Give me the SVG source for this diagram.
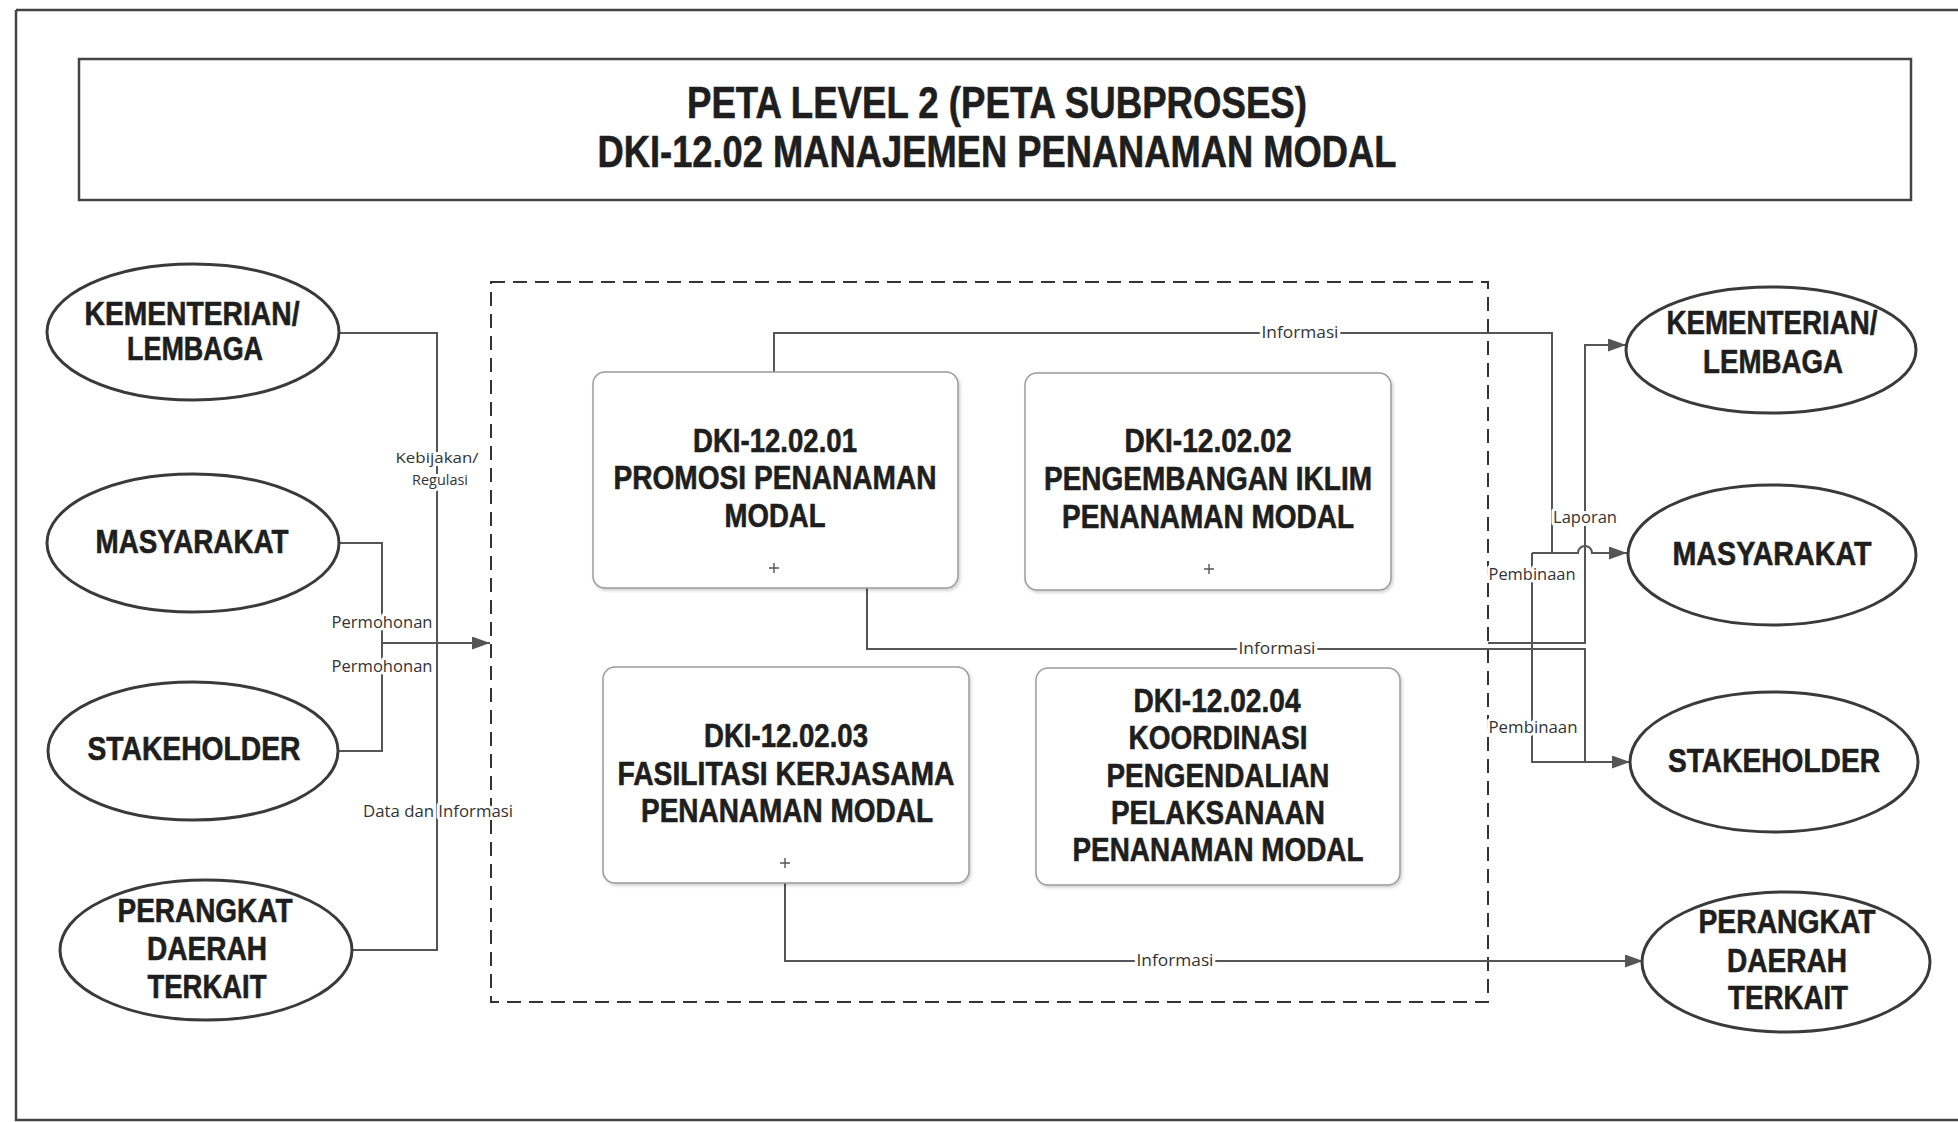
<svg xmlns="http://www.w3.org/2000/svg" width="1958" height="1122" viewBox="0 0 1958 1122">
<style>
.frame{fill:none;stroke:#444;stroke-width:2.5}
.ell{fill:#fff;stroke:#3a3a3a;stroke-width:3}
.box{fill:#fff;stroke:#9a9a9a;stroke-width:1.5}
.t{font-family:"Liberation Sans Narrow","Liberation Sans",Arial,sans-serif;font-weight:bold;font-size:33px;fill:#1e1e1e;stroke:#1e1e1e;stroke-width:0.6;text-anchor:middle}
.title{font-size:44px}
.con{fill:none;stroke:#555;stroke-width:2}
.lbl{font-family:"Open Sans","Liberation Sans",sans-serif;font-size:16px;fill:#333;text-anchor:middle;stroke:#fff;stroke-width:6;paint-order:stroke;stroke-linejoin:round}
.sm{font-size:15px}
.plus{stroke:#555;stroke-width:1.4}
</style>
<defs>
<marker id="arr" markerUnits="userSpaceOnUse" markerWidth="20" markerHeight="14" refX="18" refY="6.5" orient="auto">
<path d="M0,0 L18,6.5 L0,13 z" fill="#555"/>
</marker>
<filter id="sh" x="-5%" y="-5%" width="110%" height="110%">
<feDropShadow dx="1.5" dy="2" stdDeviation="1.5" flood-color="#000" flood-opacity="0.18"/>
</filter>
</defs>
<rect width="1958" height="1122" fill="#fff"/>
<path class="frame" d="M16,10 H1958 M16,10 V1120 H1958"/>
<g id="title">
<rect class="frame" x="79" y="59" width="1832" height="141"/>
<text class="t title" x="997" y="118" textLength="620" lengthAdjust="spacingAndGlyphs">PETA LEVEL 2 (PETA SUBPROSES)</text>
<text class="t title" x="997" y="167" textLength="799" lengthAdjust="spacingAndGlyphs">DKI-12.02 MANAJEMEN PENANAMAN MODAL</text>
</g>
<g id="scope">
<rect x="491" y="282" width="997" height="720" fill="none" stroke="#333" stroke-width="2" stroke-dasharray="14,8"/>
</g>
<g id="connectors">
<path class="con" d="M340,333 H437 V950 H352"/>
<path class="con" d="M339,543 H382 V643"/>
<path class="con" d="M338,751 H382 V643"/>
<path class="con" d="M382,643 H490" marker-end="url(#arr)"/>
<path class="con" d="M774,372 V333 H1552 V553"/>
<path class="con" d="M1532,553 H1578 A7,7 0 0 1 1592,553 H1627" marker-end="url(#arr)"/>
<path class="con" d="M1532,553 V762 H1630" marker-end="url(#arr)"/>
<path class="con" d="M1488,643 H1585 V345 H1626" marker-end="url(#arr)"/>
<path class="con" d="M867,588 V649 H1585 V762"/>
<path class="con" d="M785,883 V961 H1643" marker-end="url(#arr)"/>
<text class="lbl sm" x="437" y="463" textLength="83" lengthAdjust="spacingAndGlyphs">Kebijakan/</text>
<text class="lbl sm" x="440" y="485" textLength="56" lengthAdjust="spacingAndGlyphs">Regulasi</text>
<text class="lbl" x="382" y="628" textLength="101" lengthAdjust="spacingAndGlyphs">Permohonan</text>
<text class="lbl" x="382" y="672" textLength="101" lengthAdjust="spacingAndGlyphs">Permohonan</text>
<text class="lbl" x="438" y="817" textLength="150" lengthAdjust="spacingAndGlyphs">Data dan Informasi</text>
<text class="lbl" x="1300" y="338" textLength="77" lengthAdjust="spacingAndGlyphs">Informasi</text>
<text class="lbl" x="1277" y="654" textLength="77" lengthAdjust="spacingAndGlyphs">Informasi</text>
<text class="lbl" x="1175" y="966" textLength="77" lengthAdjust="spacingAndGlyphs">Informasi</text>
<text class="lbl" x="1585" y="523" textLength="64" lengthAdjust="spacingAndGlyphs">Laporan</text>
<text class="lbl" x="1532" y="580" textLength="87" lengthAdjust="spacingAndGlyphs">Pembinaan</text>
<text class="lbl" x="1533" y="733" textLength="89" lengthAdjust="spacingAndGlyphs">Pembinaan</text>
</g>
<g id="L-kementerian">
<ellipse class="ell" cx="193" cy="332" rx="146" ry="68"/>
<text class="t" x="192" y="325" textLength="215" lengthAdjust="spacingAndGlyphs">KEMENTERIAN/</text>
<text class="t" x="195" y="360" textLength="136" lengthAdjust="spacingAndGlyphs">LEMBAGA</text>
</g>
<g id="L-masyarakat">
<ellipse class="ell" cx="193" cy="543" rx="146" ry="69"/>
<text class="t" x="192" y="553" textLength="193" lengthAdjust="spacingAndGlyphs">MASYARAKAT</text>
</g>
<g id="L-stakeholder">
<ellipse class="ell" cx="193" cy="751" rx="145" ry="69"/>
<text class="t" x="194" y="760" textLength="213" lengthAdjust="spacingAndGlyphs">STAKEHOLDER</text>
</g>
<g id="L-perangkat">
<ellipse class="ell" cx="206" cy="950" rx="146" ry="70"/>
<text class="t" x="205" y="922" textLength="175" lengthAdjust="spacingAndGlyphs">PERANGKAT</text>
<text class="t" x="207" y="960" textLength="120" lengthAdjust="spacingAndGlyphs">DAERAH</text>
<text class="t" x="207" y="998" textLength="119" lengthAdjust="spacingAndGlyphs">TERKAIT</text>
</g>
<g id="R-kementerian">
<ellipse class="ell" cx="1771" cy="350" rx="145" ry="63"/>
<text class="t" x="1772" y="334" textLength="211" lengthAdjust="spacingAndGlyphs">KEMENTERIAN/</text>
<text class="t" x="1773" y="373" textLength="140" lengthAdjust="spacingAndGlyphs">LEMBAGA</text>
</g>
<g id="R-masyarakat">
<ellipse class="ell" cx="1772" cy="555" rx="144" ry="70"/>
<text class="t" x="1772" y="565" textLength="199" lengthAdjust="spacingAndGlyphs">MASYARAKAT</text>
</g>
<g id="R-stakeholder">
<ellipse class="ell" cx="1774" cy="762" rx="144" ry="70"/>
<text class="t" x="1774" y="772" textLength="212" lengthAdjust="spacingAndGlyphs">STAKEHOLDER</text>
</g>
<g id="R-perangkat">
<ellipse class="ell" cx="1786" cy="962" rx="144" ry="70"/>
<text class="t" x="1787" y="933" textLength="177" lengthAdjust="spacingAndGlyphs">PERANGKAT</text>
<text class="t" x="1787" y="972" textLength="120" lengthAdjust="spacingAndGlyphs">DAERAH</text>
<text class="t" x="1788" y="1009" textLength="120" lengthAdjust="spacingAndGlyphs">TERKAIT</text>
</g>
<g id="P1">
<rect class="box" x="593" y="372" width="365" height="216" rx="12" filter="url(#sh)"/>
<text class="t" x="775" y="452" textLength="164" lengthAdjust="spacingAndGlyphs">DKI-12.02.01</text>
<text class="t" x="775" y="489" textLength="323" lengthAdjust="spacingAndGlyphs">PROMOSI PENANAMAN</text>
<text class="t" x="775" y="527" textLength="101" lengthAdjust="spacingAndGlyphs">MODAL</text>
<path class="plus" d="M769,568 H779 M774,563 V573"/>
</g>
<g id="P2">
<rect class="box" x="1025" y="373" width="366" height="217" rx="12" filter="url(#sh)"/>
<text class="t" x="1208" y="452" textLength="167" lengthAdjust="spacingAndGlyphs">DKI-12.02.02</text>
<text class="t" x="1208" y="490" textLength="328" lengthAdjust="spacingAndGlyphs">PENGEMBANGAN IKLIM</text>
<text class="t" x="1208" y="528" textLength="292" lengthAdjust="spacingAndGlyphs">PENANAMAN MODAL</text>
<path class="plus" d="M1204,569 H1214 M1209,564 V574"/>
</g>
<g id="P3">
<rect class="box" x="603" y="667" width="366" height="216" rx="12" filter="url(#sh)"/>
<text class="t" x="786" y="747" textLength="164" lengthAdjust="spacingAndGlyphs">DKI-12.02.03</text>
<text class="t" x="786" y="785" textLength="337" lengthAdjust="spacingAndGlyphs">FASILITASI KERJASAMA</text>
<text class="t" x="787" y="822" textLength="292" lengthAdjust="spacingAndGlyphs">PENANAMAN MODAL</text>
<path class="plus" d="M780,863 H790 M785,858 V868"/>
</g>
<g id="P4">
<rect class="box" x="1036" y="668" width="364" height="217" rx="12" filter="url(#sh)"/>
<text class="t" x="1217" y="712" textLength="167" lengthAdjust="spacingAndGlyphs">DKI-12.02.04</text>
<text class="t" x="1218" y="749" textLength="179" lengthAdjust="spacingAndGlyphs">KOORDINASI</text>
<text class="t" x="1218" y="787" textLength="223" lengthAdjust="spacingAndGlyphs">PENGENDALIAN</text>
<text class="t" x="1218" y="824" textLength="214" lengthAdjust="spacingAndGlyphs">PELAKSANAAN</text>
<text class="t" x="1218" y="861" textLength="291" lengthAdjust="spacingAndGlyphs">PENANAMAN MODAL</text>
</g>
</svg>
